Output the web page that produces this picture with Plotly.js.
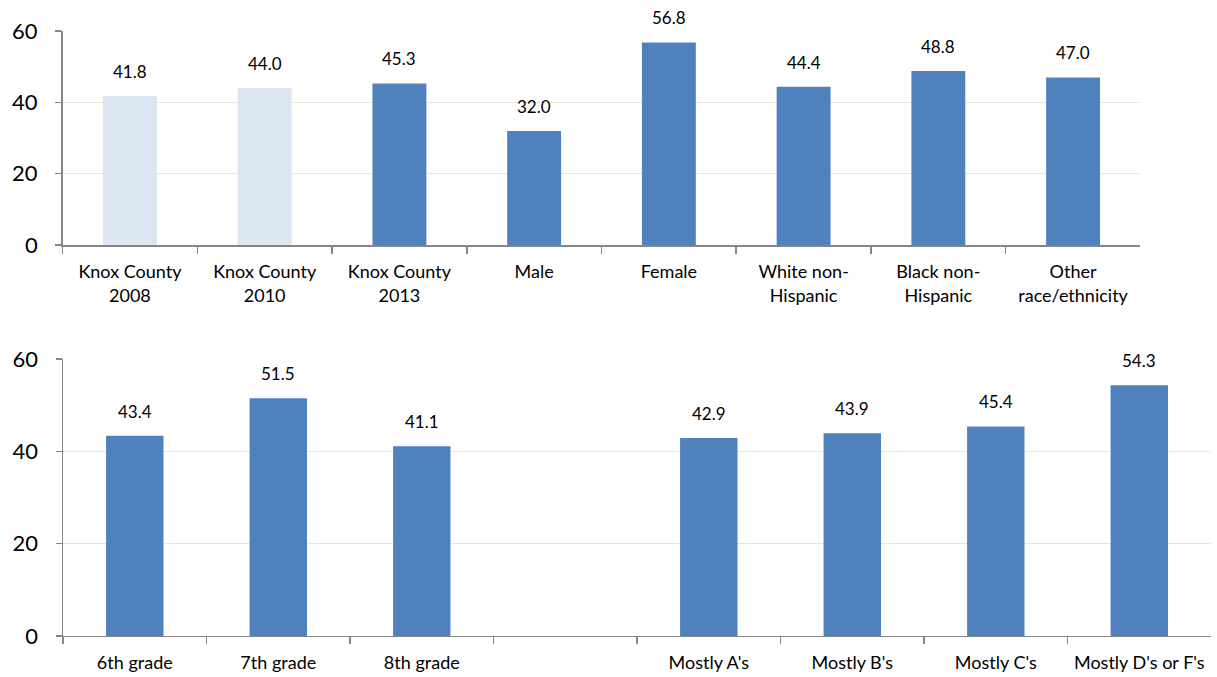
<!DOCTYPE html>
<html>
<head>
<meta charset="utf-8">
<script src="https://cdn.plot.ly/plotly-3.0.1.min.js"></script>
<style>html,body{margin:0;padding:0;background:#fff;}#chart{width:1217px;height:677px;}</style>
</head>
<body>
<div id="chart"></div>
<script>
// Top panel
const topCategories = ["Knox County<br>2008", "Knox County<br>2010", "Knox County<br>2013", "Male", "Female", "White non-<br>Hispanic", "Black non-<br>Hispanic", "Other<br>race/ethnicity"];
const topValues = [41.8, 44.0, 45.3, 32.0, 56.8, 44.4, 48.8, 47.0];
const topColors = ["#DCE6F2", "#DCE6F2", "#4F81BD", "#4F81BD", "#4F81BD", "#4F81BD", "#4F81BD", "#4F81BD"];

// Bottom panel
const bottomCategories = ["6th grade", "7th grade", "8th grade", " ", "Mostly A's", "Mostly B's", "Mostly C's", "Mostly D's or F's"];
const bottomValues = [43.4, 51.5, 41.1, null, 42.9, 43.9, 45.4, 54.3];
const barColor = "#4F81BD";

const yTicks = [0, 20, 40, 60];

const FONT = "Lato, 'Open Sans', sans-serif";
const axisColor = "#868686";
const gridColor = "#E9E6D6";

function fmt(v) { return v.toFixed(1); }

const traces = [
  {
    type: "bar", x: topCategories, y: topValues, xaxis: "x", yaxis: "y",
    marker: {color: topColors, line: {width: 0}}, width: 0.4,
    hoverinfo: "x+y", showlegend: false
  },
  {
    type: "bar", x: bottomCategories, y: bottomValues, xaxis: "x2", yaxis: "y2",
    marker: {color: barColor, line: {width: 0}}, width: 0.4,
    hoverinfo: "x+y", showlegend: false
  }
];

const annotations = [];
topCategories.forEach((c, i) => {
  annotations.push({x: c, y: topValues[i], xref: "x", yref: "y", text: fmt(topValues[i]),
    showarrow: false, yanchor: "bottom", yshift: 12, font: {family: FONT, size: 17, color: "#000"}});
});
bottomCategories.forEach((c, i) => {
  if (bottomValues[i] === null) return;
  annotations.push({x: c, y: bottomValues[i], xref: "x2", yref: "y2", text: fmt(bottomValues[i]),
    showarrow: false, yanchor: "bottom", yshift: 12, font: {family: FONT, size: 17, color: "#000"}});
});

function yAxis(domain, anchor) {
  return {
    domain: domain, anchor: anchor, range: [0, 60], tickvals: yTicks, ticktext: yTicks.map(String),
    showgrid: true, gridcolor: gridColor, gridwidth: 1.5, zeroline: false,
    showline: true, linecolor: axisColor, linewidth: 1.5,
    ticks: "outside", ticklen: 6, tickcolor: axisColor, tickwidth: 1.5,
    ticklabelstandoff: 13,
    tickfont: {family: FONT, size: 22, color: "#000"}, automargin: false, fixedrange: true
  };
}
function xAxis(domain, anchor) {
  return {
    domain: domain, anchor: anchor, type: "category",
    showline: true, linecolor: axisColor, linewidth: 1.5,
    ticks: "outside", tickson: "boundaries", ticklen: 7, tickcolor: axisColor, tickwidth: 1.5,
    ticklabelstandoff: 10,
    showgrid: false, zeroline: false,
    tickfont: {family: FONT, size: 18, color: "#000"}, automargin: false, fixedrange: true
  };
}

const layout = {
  width: 1217, height: 677,
  margin: {l: 0, r: 0, t: 0, b: 0},
  paper_bgcolor: "#fff", plot_bgcolor: "#fff",
  xaxis: xAxis([0.0514, 0.9371], "y"),
  yaxis: yAxis([0.6381, 0.9542], "x"),
  xaxis2: xAxis([0.0518, 0.9951], "y2"),
  yaxis2: yAxis([0.0606, 0.4697], "x2"),
  annotations: annotations,
  bargap: 0.6,
  font: {family: FONT}
};

Plotly.newPlot("chart", traces, layout, {displayModeBar: false, staticPlot: true});
</script>
</body>
</html>
